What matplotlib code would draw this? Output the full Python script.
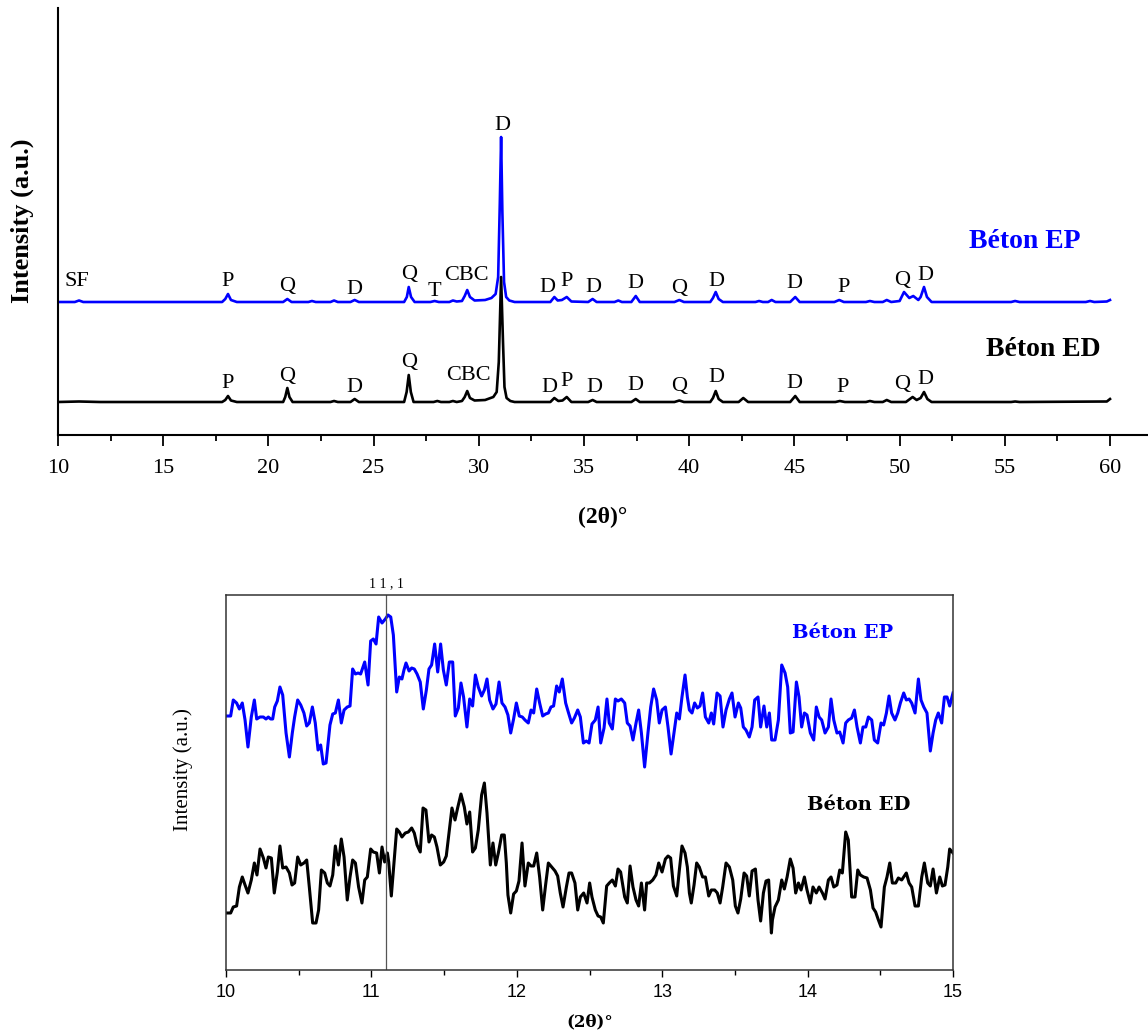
import matplotlib
matplotlib.use("Agg")
import matplotlib.pyplot as plt
from matplotlib.ticker import MultipleLocator

SERIF = "Liberation Serif"
SANS = "Liberation Sans"

# ---------------- top pattern: 10-60 deg, peak vertices ----------------
ep_2theta = [10.0, 10.8, 11.0, 11.2, 12.0, 17.8, 17.95, 18.08, 18.22, 18.5,
             20.7, 20.9, 21.1, 21.9, 22.07, 22.25, 22.95, 23.12, 23.3, 23.9,
             24.1, 24.3, 26.45, 26.58, 26.67, 26.78, 26.95, 27.7, 27.9, 28.1,
             28.6, 28.77, 28.95, 29.2, 29.33, 29.45, 29.58, 29.8, 30.3, 30.6,
             30.8, 30.92, 31.0, 31.06, 31.12, 31.2, 31.3, 31.45, 31.7, 33.4,
             33.59, 33.75, 33.95, 34.18, 34.4, 35.2, 35.41, 35.6, 36.45, 36.63,
             36.8, 37.25, 37.46, 37.65, 39.3, 39.53, 39.75, 41.0, 41.13, 41.26,
             41.4, 41.6, 43.15, 43.32, 43.5, 43.75, 43.92, 44.1, 44.8, 45.04,
             45.25, 46.9, 47.13, 47.35, 48.4, 48.59, 48.8, 49.2, 49.39, 49.6,
             50.0, 50.21, 50.46, 50.65, 50.89, 51.0, 51.16, 51.3, 51.52, 55.3,
             55.49, 55.7, 58.85, 59.05, 59.25, 59.85, 60.0]
ep_int = [0, 0, 1.5, 0, 0, 0, 3, 8, 2, 0,
          0, 3, 0, 0, 1, 0, 0, 1.5, 0, 0,
          2, 0, 0, 5, 15, 5, 0, 0, 1, 0,
          0, 1.5, 0.5, 1, 6, 12, 5, 1.5, 2, 4,
          8, 25, 100, 165, 90, 20, 5, 1.5, 0, 0,
          5, 1.5, 2, 5, 0.5, 0, 3, 0, 0, 1.5,
          0, 0, 6, 0, 0, 2, 0, 0, 4, 10,
          3, 0, 0, 1, 0, 0, 2, 0, 0, 5,
          0, 0, 2, 0, 0, 1, 0, 0, 2, 0,
          1, 10, 4, 6, 2, 5, 15, 5, 0, 0,
          1, 0, 0, 1, 0, 0.5, 2]

ed_2theta = [10.0, 11.0, 12.0, 17.8, 17.95, 18.08, 18.22, 18.5, 20.7, 20.8,
             20.9, 21.0, 21.15, 22.95, 23.12, 23.3, 23.9, 24.1, 24.3, 26.45,
             26.57, 26.67, 26.77, 26.9, 27.85, 28.03, 28.2, 28.6, 28.77, 28.95,
             29.2, 29.33, 29.45, 29.58, 29.8, 30.3, 30.69, 30.85, 30.95, 31.06,
             31.15, 31.22, 31.32, 31.5, 31.7, 33.4, 33.59, 33.78, 33.98, 34.18,
             34.4, 35.2, 35.41, 35.6, 37.25, 37.46, 37.65, 39.3, 39.53, 39.75,
             41.0, 41.13, 41.26, 41.4, 41.6, 42.35, 42.57, 42.8, 44.8, 45.04,
             45.25, 46.95, 47.16, 47.4, 48.4, 48.59, 48.8, 49.2, 49.39, 49.6,
             50.3, 50.62, 50.81, 51.0, 51.16, 51.32, 51.52, 55.3, 55.49, 55.7,
             59.85, 60.0]
ed_int = [0, 0.5, 0, 0, 2, 6, 1.5, 0, 0, 5,
          14, 5, 0, 0, 1, 0, 0, 3, 0, 0,
          10, 27, 10, 0, 0, 1, 0, 0, 1, 0,
          1, 5, 11, 4, 1.5, 2, 5, 10, 40, 125,
          60, 15, 4, 1, 0, 0, 4, 1, 1.5, 5,
          0, 0, 2, 0, 0, 3, 0, 0, 1.5, 0,
          0, 4, 11, 3, 0, 0, 4, 0, 0, 6,
          0, 0, 1, 0, 0, 1, 0, 0, 2, 0,
          0, 5, 2, 4, 10, 3, 0, 0, 0.5, 0,
          0.5, 3]

ep_labels = ["SF", "P", "Q", "D", "Q", "T", "CBC", "D", "D", "P", "D", "D", "Q", "D", "D", "P", "Q", "D"]
ep_label_x = [10.92, 18.05, 20.90, 24.07, 26.67, 27.90, 29.39, 31.12, 33.27, 34.18, 35.44, 37.42,
              39.53, 41.31, 44.98, 47.36, 50.13, 51.24]
ep_label_y = [21, 21, 15, 13, 28, 10, 27, 177, 15, 20, 15, 19, 14, 20, 18, 15, 22, 27]

ed_labels = ["P", "Q", "D", "Q", "CBC", "D", "P", "D", "D", "Q", "D", "D", "P", "Q", "D"]
ed_label_x = [18.08, 20.90, 24.07, 26.67, 29.49, 33.34, 34.18, 35.49, 37.46, 39.53, 41.31,
              44.98, 47.30, 50.10, 51.24]
ed_label_y = [18, 26, 15, 39, 26, 15, 21, 15, 16, 15, 24, 19, 14, 17, 22]

# ---------------- bottom zoom: 10-15 deg, vertices ----------------
zep_2theta = [10.000, 10.032, 10.050, 10.073, 10.092, 10.112, 10.131, 10.151, 10.174, 10.195,
              10.211, 10.234, 10.257, 10.275, 10.291, 10.307, 10.321, 10.335, 10.353, 10.371,
              10.390, 10.413, 10.436, 10.456, 10.472, 10.493, 10.514, 10.536, 10.555, 10.573,
              10.594, 10.614, 10.633, 10.651, 10.669, 10.688, 10.715, 10.734, 10.752, 10.773,
              10.793, 10.812, 10.834, 10.853, 10.871, 10.890, 10.908, 10.926, 10.954, 10.977,
              10.995, 11.013, 11.032, 11.050, 11.073, 11.096, 11.114, 11.133, 11.151, 11.174,
              11.192, 11.210, 11.224, 11.238, 11.259, 11.277, 11.295, 11.314, 11.336, 11.357,
              11.378, 11.396, 11.414, 11.435, 11.456, 11.476, 11.495, 11.515, 11.536, 11.559,
              11.577, 11.598, 11.616, 11.634, 11.657, 11.676, 11.696, 11.715, 11.735, 11.758,
              11.777, 11.795, 11.813, 11.836, 11.857, 11.878, 11.898, 11.919, 11.939, 11.958,
              11.978, 11.997, 12.017, 12.038, 12.056, 12.079, 12.098, 12.116, 12.137, 12.157,
              12.178, 12.198, 12.217, 12.235, 12.253, 12.274, 12.292, 12.313, 12.336, 12.354,
              12.377, 12.396, 12.419, 12.437, 12.458, 12.478, 12.497, 12.517, 12.540, 12.559,
              12.577, 12.600, 12.620, 12.636, 12.657, 12.678, 12.696, 12.719, 12.742, 12.760,
              12.779, 12.799, 12.820, 12.838, 12.857, 12.879, 12.902, 12.921, 12.941, 12.962,
              12.980, 12.999, 13.022, 13.040, 13.061, 13.081, 13.100, 13.118, 13.136, 13.157,
              13.173, 13.187, 13.205, 13.223, 13.242, 13.260, 13.278, 13.297, 13.320, 13.338,
              13.354, 13.377, 13.398, 13.418, 13.439, 13.462, 13.480, 13.501, 13.524, 13.540,
              13.558, 13.576, 13.599, 13.618, 13.636, 13.659, 13.677, 13.700, 13.719, 13.737,
              13.753, 13.776, 13.799, 13.822, 13.845, 13.863, 13.881, 13.900, 13.923, 13.941,
              13.959, 13.978, 13.996, 14.019, 14.042, 14.060, 14.079, 14.097, 14.120, 14.143,
              14.161, 14.180, 14.202, 14.221, 14.244, 14.262, 14.280, 14.303, 14.322, 14.340,
              14.363, 14.381, 14.400, 14.418, 14.441, 14.459, 14.482, 14.505, 14.523, 14.542,
              14.560, 14.578, 14.601, 14.620, 14.638, 14.661, 14.679, 14.698, 14.716, 14.739,
              14.762, 14.780, 14.799, 14.821, 14.844, 14.863, 14.881, 14.899, 14.922, 14.941,
              14.959, 14.977, 15.000]
zep_int = [254, 254, 270, 267, 261, 267, 250, 223, 253, 270,
           251, 253, 253, 251, 253, 251, 251, 263, 269, 283,
           275, 237, 213, 237, 253, 270, 265, 257, 244, 247,
           263, 247, 220, 225, 206, 207, 245, 256, 257, 270,
           247, 260, 263, 264, 301, 296, 297, 296, 308, 285,
           329, 331, 326, 353, 347, 351, 355, 353, 335, 278,
           293, 291, 300, 307, 299, 302, 301, 296, 288, 261,
           280, 301, 305, 326, 298, 326, 300, 285, 308, 308,
           254, 262, 287, 273, 243, 271, 264, 295, 283, 274,
           280, 291, 270, 261, 266, 288, 267, 263, 255, 237,
           251, 267, 254, 253, 250, 247, 260, 257, 281, 267,
           254, 256, 257, 263, 264, 284, 278, 291, 267, 258,
           247, 252, 260, 253, 227, 229, 227, 246, 250, 263,
           227, 242, 271, 247, 241, 271, 269, 271, 267, 247,
           244, 230, 247, 260, 237, 203, 237, 263, 281, 270,
           247, 260, 263, 243, 216, 237, 257, 251, 273, 295,
           273, 260, 257, 267, 262, 264, 277, 253, 247, 257,
           246, 277, 274, 243, 260, 271, 277, 253, 267, 262,
           243, 240, 233, 243, 270, 273, 243, 264, 243, 257,
           230, 230, 250, 305, 297, 283, 237, 238, 288, 273,
           243, 257, 255, 237, 230, 263, 253, 250, 237, 243,
           271, 250, 237, 238, 227, 247, 250, 252, 260, 243,
           227, 243, 243, 253, 250, 230, 227, 247, 245, 257,
           274, 257, 250, 257, 267, 277, 270, 271, 267, 257,
           291, 270, 263, 257, 219, 237, 250, 257, 247, 273,
           273, 264, 277]

zed_2theta = [10.000, 10.032, 10.050, 10.073, 10.092, 10.112, 10.131, 10.151, 10.174, 10.195,
              10.213, 10.234, 10.257, 10.275, 10.291, 10.312, 10.332, 10.353, 10.371, 10.390,
              10.413, 10.436, 10.454, 10.472, 10.493, 10.514, 10.536, 10.555, 10.573, 10.596,
              10.619, 10.637, 10.656, 10.679, 10.697, 10.715, 10.734, 10.752, 10.773, 10.793,
              10.812, 10.834, 10.853, 10.871, 10.890, 10.912, 10.935, 10.954, 10.972, 10.995,
              11.013, 11.036, 11.055, 11.073, 11.091, 11.110, 11.119, 11.137, 11.174, 11.192,
              11.210, 11.233, 11.254, 11.277, 11.295, 11.314, 11.336, 11.355, 11.375, 11.396,
              11.414, 11.433, 11.451, 11.474, 11.497, 11.515, 11.534, 11.554, 11.575, 11.593,
              11.616, 11.639, 11.657, 11.676, 11.696, 11.715, 11.735, 11.758, 11.777, 11.795,
              11.818, 11.836, 11.855, 11.873, 11.896, 11.914, 11.928, 11.939, 11.958, 11.978,
              11.997, 12.015, 12.036, 12.056, 12.079, 12.098, 12.116, 12.137, 12.157, 12.178,
              12.198, 12.217, 12.240, 12.263, 12.281, 12.299, 12.318, 12.341, 12.359, 12.377,
              12.400, 12.419, 12.437, 12.460, 12.483, 12.501, 12.517, 12.540, 12.559, 12.577,
              12.595, 12.618, 12.636, 12.657, 12.678, 12.696, 12.714, 12.742, 12.760, 12.779,
              12.799, 12.820, 12.838, 12.857, 12.879, 12.893, 12.912, 12.935, 12.957, 12.976,
              12.999, 13.022, 13.040, 13.058, 13.077, 13.100, 13.118, 13.136, 13.157, 13.173,
              13.187, 13.200, 13.219, 13.237, 13.255, 13.278, 13.297, 13.320, 13.338, 13.361,
              13.379, 13.398, 13.416, 13.439, 13.462, 13.485, 13.503, 13.521, 13.540, 13.563,
              13.581, 13.599, 13.618, 13.641, 13.659, 13.677, 13.696, 13.714, 13.732, 13.751,
              13.758, 13.776, 13.799, 13.822, 13.840, 13.859, 13.881, 13.900, 13.918, 13.937,
              13.955, 13.978, 13.996, 14.019, 14.037, 14.060, 14.079, 14.102, 14.120, 14.143,
              14.161, 14.180, 14.202, 14.221, 14.239, 14.262, 14.280, 14.303, 14.326, 14.345,
              14.363, 14.386, 14.409, 14.432, 14.450, 14.468, 14.487, 14.505, 14.528, 14.546,
              14.565, 14.583, 14.606, 14.624, 14.647, 14.661, 14.679, 14.698, 14.716, 14.739,
              14.762, 14.785, 14.803, 14.826, 14.844, 14.863, 14.886, 14.909, 14.927, 14.945,
              14.964, 14.977, 15.000]
zed_int = [57, 57, 63, 64, 83, 93, 85, 77, 90, 107,
           95, 121, 112, 102, 113, 112, 77, 98, 124, 102,
           103, 97, 85, 87, 113, 105, 107, 110, 83, 47,
           47, 60, 100, 97, 87, 84, 95, 124, 105, 131,
           113, 70, 93, 110, 107, 83, 67, 90, 93, 121,
           118, 117, 97, 123, 108, 117, 108, 74, 141, 138,
           133, 137, 138, 142, 137, 125, 118, 162, 160, 128,
           135, 133, 123, 105, 108, 114, 137, 162, 150, 162,
           176, 163, 146, 158, 118, 122, 140, 175, 187, 157,
           105, 127, 105, 117, 135, 135, 107, 75, 57, 76,
           79, 89, 127, 84, 107, 104, 104, 117, 93, 60,
           85, 107, 103, 99, 94, 77, 63, 83, 97, 97,
           87, 60, 73, 77, 67, 87, 73, 60, 54, 53,
           47, 84, 87, 90, 84, 101, 98, 73, 67, 104,
           83, 70, 64, 87, 60, 87, 87, 90, 95, 107,
           98, 111, 114, 112, 84, 74, 100, 124, 117, 103,
           77, 67, 85, 107, 103, 93, 93, 74, 80, 80,
           77, 67, 83, 107, 103, 90, 64, 57, 71, 97,
           94, 74, 99, 101, 70, 49, 77, 89, 90, 37,
           50, 63, 70, 90, 81, 93, 111, 102, 77, 87,
           80, 93, 80, 67, 83, 77, 83, 77, 71, 90,
           93, 83, 85, 100, 97, 138, 130, 73, 73, 100,
           95, 93, 92, 80, 62, 58, 50, 43, 83, 93,
           107, 87, 87, 92, 90, 93, 97, 87, 83, 64,
           64, 93, 107, 87, 84, 101, 77, 93, 84, 85,
           103, 121, 117]

# stacking offsets (a.u.)
top_offset_ep = 133
top_offset_ed = 33

fig = plt.figure(figsize=(11.48, 10.33), dpi=100)

# ---------------- top panel ----------------
ax1 = fig.add_axes([58 / 1148, 598 / 1033, 1090 / 1148, 427 / 1033])
ax1.plot(ep_2theta, [v + top_offset_ep for v in ep_int], color="#0000ff", lw=1.9, zorder=2)
ax1.plot(ed_2theta, [v + top_offset_ed for v in ed_int], color="black", lw=1.9, zorder=3)

for lab, x, y in zip(ep_labels, ep_label_x, ep_label_y):
    ax1.text(x, y + top_offset_ep, lab, ha="center", va="center", fontsize=16, family=SERIF)
for lab, x, y in zip(ed_labels, ed_label_x, ed_label_y):
    ax1.text(x, y + top_offset_ed, lab, ha="center", va="center", fontsize=16, family=SERIF)

ax1.text(55.96, 193, "Béton EP", color="#0000ff", ha="center", va="center",
         fontsize=20, fontweight="bold", family=SERIF)
ax1.text(56.82, 86, "Béton ED", color="black", ha="center", va="center",
         fontsize=20, fontweight="bold", family=SERIF)

ax1.set_xlim(10, 10 + 1090 / 21.04)
ax1.set_ylim(0, 427)
ax1.set_yticks([])
ax1.xaxis.set_major_locator(MultipleLocator(5))
ax1.xaxis.set_minor_locator(MultipleLocator(2.5))
ax1.set_xticks(range(10, 61, 5))
ax1.tick_params(axis="x", which="major", direction="out", length=8, width=1.3, pad=9)
ax1.tick_params(axis="x", which="minor", direction="out", length=4.5, width=1.3)
for t in ax1.get_xticklabels():
    t.set_fontfamily(SERIF)
    t.set_fontsize(16)
ax1.spines["top"].set_visible(False)
ax1.spines["right"].set_visible(False)
ax1.spines["left"].set_linewidth(1.5)
ax1.spines["bottom"].set_linewidth(1.5)

fig.text(22 / 1148, 1 - 221 / 1033, "Intensity (a.u.)", rotation=90, ha="center", va="center",
         fontsize=19, fontweight="bold", family=SERIF)
fig.text(603 / 1148, 1 - 517 / 1033, "(2θ)°", ha="center", va="center",
         fontsize=17, fontweight="bold", family=SERIF)

# ---------------- bottom panel ----------------
ax2 = fig.add_axes([226 / 1148, 63 / 1033, 727 / 1148, 375 / 1033])
ax2.plot(zep_2theta, zep_int, color="#0000ff", lw=2.2)
ax2.plot(zed_2theta, zed_int, color="black", lw=2.2)
ax2.axvline(11.1, color="#555555", lw=0.9)
ax2.text(11.1, 380, "1 1 , 1", ha="center", va="bottom", fontsize=10, family=SERIF)

ax2.text(14.24, 337, "Béton EP", color="#0000ff", ha="center", va="center",
         fontsize=14, fontweight="bold", family="DejaVu Serif")
ax2.text(14.35, 165, "Béton ED", color="black", ha="center", va="center",
         fontsize=14, fontweight="bold", family="DejaVu Serif")

ax2.set_xlim(10, 15)
ax2.set_ylim(0, 375)
ax2.set_yticks([])
ax2.xaxis.set_major_locator(MultipleLocator(1))
ax2.xaxis.set_minor_locator(MultipleLocator(0.5))
ax2.tick_params(axis="x", which="major", direction="out", length=5, width=1.0, pad=5)
ax2.tick_params(axis="x", which="minor", direction="out", length=3.5, width=1.0)
for t in ax2.get_xticklabels():
    t.set_fontfamily(SANS)
    t.set_fontsize(13)
for s in ax2.spines.values():
    s.set_color("#333333")
    s.set_linewidth(1.1)

fig.text(183 / 1148, 1 - 770 / 1033, "Intensity (a.u.)", rotation=90, ha="center", va="center",
         fontsize=15, family=SERIF)
fig.text(590 / 1148, 1 - 1022 / 1033, "(2θ)°", ha="center", va="center",
         fontsize=12, fontweight="bold", family="DejaVu Serif")

fig.savefig("out.png", dpi=100)
